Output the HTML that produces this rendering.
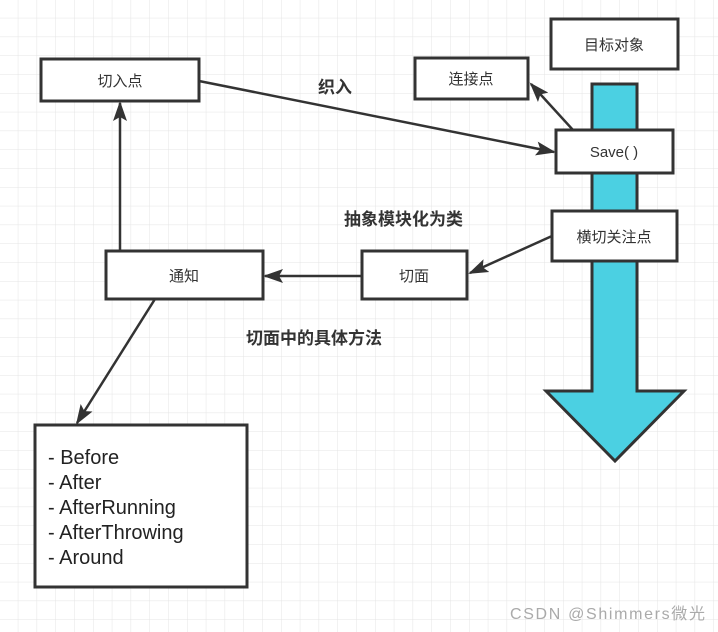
<!DOCTYPE html>
<html><head><meta charset="utf-8"><style>
body{margin:0;width:718px;height:632px;overflow:hidden;background:#fff;font-family:"Liberation Sans","Noto Sans CJK SC",sans-serif}
</style></head><body>
<svg width="718" height="632" xmlns="http://www.w3.org/2000/svg" style="position:absolute;left:0;top:0">
<defs>
<pattern id="g" width="18.8" height="18.8" patternUnits="userSpaceOnUse" x="-0.5" y="-0.5">
<path d="M18.8 0V18.8H0" fill="none" stroke="#e4e4e4" stroke-width="1"/></pattern>
<marker id="b" markerWidth="20" markerHeight="20" refX="18" refY="7" orient="auto" markerUnits="userSpaceOnUse" viewBox="0 0 20 14"><path d="M0 0L20 7L0 14L4 7Z" fill="#333"/></marker>
</defs>
<rect width="718" height="632" fill="url(#g)"/>
<g font-family="Liberation Sans,Noto Sans CJK SC,sans-serif" font-size="15" fill="#333" stroke-width="3">
<path d="M592 84H637V391H684L615 461L546 391H592Z" fill="#4bd0e2" stroke="#333" stroke-width="3"/>
<rect x="551" y="19" width="127" height="50" fill="#fff" stroke="#333"/>
<rect x="41" y="59" width="158" height="42" fill="#fff" stroke="#333"/>
<rect x="415" y="58" width="113" height="41" fill="#fff" stroke="#333"/>
<rect x="556" y="130" width="117" height="43" fill="#fff" stroke="#333"/>
<rect x="552" y="211" width="125" height="50" fill="#fff" stroke="#333"/>
<rect x="362" y="251" width="105" height="48" fill="#fff" stroke="#333"/>
<rect x="106" y="251" width="157" height="48" fill="#fff" stroke="#333"/>
<rect x="35" y="425" width="212" height="162" fill="#fff" stroke="#333"/>
<g stroke="#333" stroke-width="2.5" fill="none">
<line x1="199" y1="81" x2="554" y2="152" marker-end="url(#b)"/>
<line x1="573" y1="130" x2="531" y2="84" marker-end="url(#b)"/>
<line x1="552" y1="236" x2="470" y2="273" marker-end="url(#b)"/>
<line x1="362" y1="276" x2="265" y2="276" marker-end="url(#b)"/>
<line x1="120" y1="251" x2="120" y2="103" marker-end="url(#b)"/>
<line x1="155" y1="299" x2="77" y2="423" marker-end="url(#b)"/>
</g>
<g text-anchor="middle" stroke="none">
<text x="614" y="50">目标对象</text>
<text x="120" y="86">切入点</text>
<text x="471" y="84">连接点</text>
<text x="614" y="157">Save( )</text>
<text x="614" y="242">横切关注点</text>
<text x="414" y="281">切面</text>
<text x="184" y="281">通知</text>
</g>
<g font-weight="bold" font-size="17" stroke="none">
<text x="318" y="93">织入</text>
<text x="344" y="225">抽象模块化为类</text>
<text x="246" y="344">切面中的具体方法</text>
</g>
<g font-size="20" stroke="none" fill="#222">
<text x="48" y="464">- Before</text>
<text x="48" y="489">- After</text>
<text x="48" y="514">- AfterRunning</text>
<text x="48" y="539">- AfterThrowing</text>
<text x="48" y="564">- Around</text>
</g>
<text x="510" y="619" font-size="16" fill="#aaa" stroke="none" textLength="195">CSDN @Shimmers微光</text>
</g>
</svg>
</body></html>
